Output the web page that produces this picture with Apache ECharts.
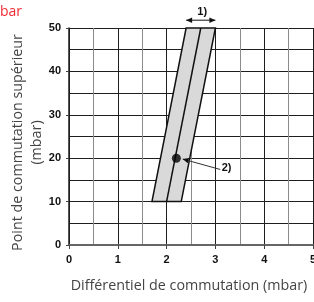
<!DOCTYPE html>
<html>
<head>
<meta charset="utf-8">
<script src="https://cdn.jsdelivr.net/npm/echarts@6/dist/echarts.min.js"></script>
<style>
  html, body { margin: 0; padding: 0; background: #fff; }
  #chart { width: 314px; height: 302px; }
</style>
</head>
<body>
<div id="chart"></div>
<script>
// axes
const xTicks = [0, 1, 2, 3, 4, 5];
const yTicks = [0, 10, 20, 30, 40, 50];

// switching band (x = differential, y = upper switching point)
const bandPolygon = [[1.7, 10], [2.3, 10], [3.0, 50], [2.4, 50]];
const midLine = [[2.0, 10], [2.7, 50]];
const setPoint = [[2.2, 20]];

// annotations
const note1Arrow = [[2.4, 51.8], [3.0, 51.8]];
const note1Label = [2.73, 53.7];
const note2Arrow = [[3.1, 17.4], [2.33, 19.8]];
const note2Label = [3.23, 17.8];

const chart = echarts.init(document.getElementById('chart'));

const dark = '#1e1e1e';
// libellés de graduation en gras
const tickLabel = {
  formatter: '{b|{value}}',
  rich: { b: { fontFamily: 'Liberation Sans', fontWeight: 'bold', fontSize: 11, color: '#111' } }
};

// petite tete de fleche pleine
function arrowHead(tip, from, size) {
  const dx = tip[0] - from[0], dy = tip[1] - from[1];
  const len = Math.sqrt(dx * dx + dy * dy);
  const ux = dx / len, uy = dy / len;
  const bx = tip[0] - ux * size, by = tip[1] - uy * size;
  const w = size * 0.45;
  return {
    type: 'polygon',
    shape: { points: [tip, [bx - uy * w, by + ux * w], [bx + uy * w, by - ux * w]] },
    style: { fill: '#111' }
  };
}

chart.setOption({
  animation: false,
  grid: { left: 69, right: 1, top: 28, bottom: 57, containLabel: false, outerBoundsMode: 'none' },
  xAxis: {
    type: 'value',
    min: xTicks[0],
    max: xTicks[xTicks.length - 1],
    interval: 1,
    name: 'Différentiel de commutation (mbar)',
    nameLocation: 'middle',
    nameGap: 34,
    nameMoveOverlap: false,
    nameTextStyle: { fontFamily: 'Open Sans', fontSize: 14.3, color: '#444', padding: [0, 4, 0, 0] },
    axisLine: { lineStyle: { color: '#666', width: 2 } },
    axisTick: { show: true, length: 4, lineStyle: { color: '#444' } },
    axisLabel: Object.assign({ margin: 9 }, tickLabel),
    splitLine: { show: true, lineStyle: { color: dark, width: 1 } },
    minorTick: { show: false, splitNumber: 2 },
    minorSplitLine: { show: true, lineStyle: { color: '#8c8c8c', width: 1 } }
  },
  yAxis: {
    type: 'value',
    min: yTicks[0],
    max: yTicks[yTicks.length - 1],
    interval: 10,
    name: 'Point de commutation supérieur\n(mbar)',
    nameLocation: 'middle',
    nameGap: 23,
    nameMoveOverlap: false,
    nameRotate: 90,
    nameTextStyle: { fontFamily: 'Open Sans', fontSize: 14.3, color: '#444', lineHeight: 19, padding: [0, 12, 0, 0] },
    axisLine: { show: true, lineStyle: { color: dark, width: 1.5 } },
    axisTick: { show: true, length: 3, lineStyle: { color: '#444' } },
    axisLabel: Object.assign({ margin: 8 }, tickLabel),
    splitLine: { show: true, lineStyle: { color: dark, width: 1 } },
    minorTick: { show: false, splitNumber: 2 },
    minorSplitLine: { show: true, lineStyle: { color: dark, width: 1 } }
  },
  graphic: [
    {
      type: 'text',
      x: -13,
      y: 5,
      style: { text: 'mbar', font: '14px "Open Sans"', fill: '#ee2a33' }
    }
  ],
  series: [
    {
      // bande grise
      type: 'custom',
      data: [0],
      z: 3,
      renderItem: function (params, api) {
        return {
          type: 'polygon',
          shape: { points: bandPolygon.map(p => api.coord(p)) },
          style: { fill: '#d9d9d9', stroke: '#111', lineWidth: 1.5 }
        };
      }
    },
    {
      type: 'line',
      data: midLine,
      z: 4,
      symbol: 'none',
      lineStyle: { color: '#111', width: 1.5 }
    },
    {
      type: 'scatter',
      data: setPoint,
      z: 5,
      symbolSize: 9,
      itemStyle: { color: '#000' }
    },
    {
      // repères 1) et 2)
      type: 'custom',
      data: [0],
      z: 6,
      clip: false,
      renderItem: function (params, api) {
        const a1 = note1Arrow.map(p => api.coord(p));
        const a2 = note2Arrow.map(p => api.coord(p));
        const l1 = api.coord(note1Label);
        const l2 = api.coord(note2Label);
        return {
          type: 'group',
          children: [
            { type: 'line', shape: { x1: a1[0][0], y1: a1[0][1], x2: a1[1][0], y2: a1[1][1] }, style: { stroke: '#111', lineWidth: 1 } },
            arrowHead(a1[0], a1[1], 6),
            arrowHead(a1[1], a1[0], 6),
            { type: 'text', x: l1[0], y: l1[1], style: { text: '1)', align: 'center', verticalAlign: 'middle', font: 'bold 11px "Liberation Sans"', fill: '#111' } },
            { type: 'line', shape: { x1: a2[0][0], y1: a2[0][1], x2: a2[1][0], y2: a2[1][1] }, style: { stroke: '#333', lineWidth: 1 } },
            arrowHead(a2[1], a2[0], 6),
            { type: 'text', x: l2[0], y: l2[1], style: { text: '2)', align: 'center', verticalAlign: 'middle', font: 'bold 11px "Liberation Sans"', fill: '#111' } }
          ]
        };
      }
    }
  ]
});
</script>
</body>
</html>
